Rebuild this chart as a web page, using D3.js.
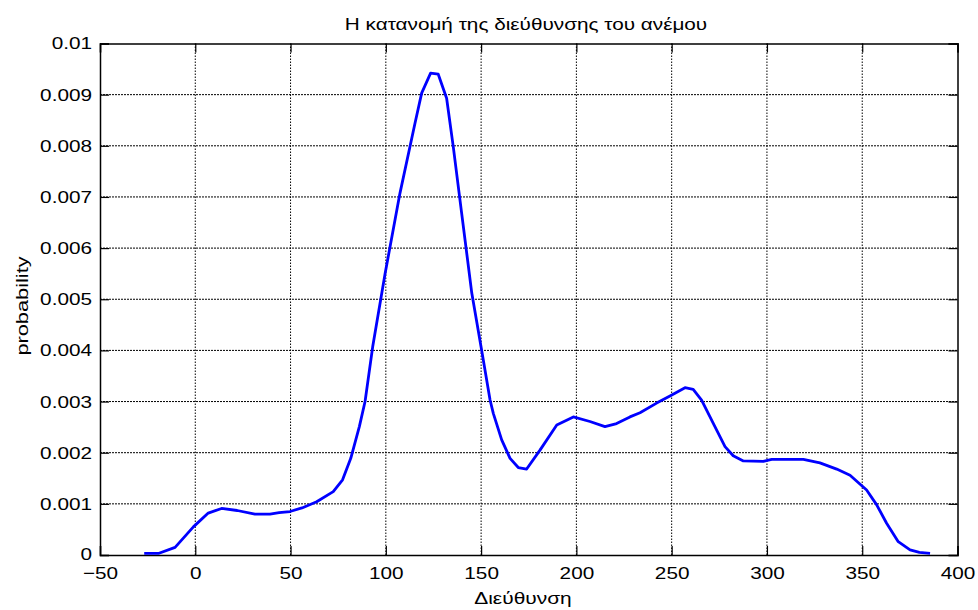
<!DOCTYPE html>
<html>
<head>
<meta charset="utf-8">
<script src="https://cdn.jsdelivr.net/npm/d3@7"></script>
<style>
    body { margin: 0; background: #fff; }
    text { font-family: "Liberation Sans", Arial, sans-serif; fill: #000; }
</style>
</head>
<body>
<div class="chart"></div>
<script>

const direction = [
    -26.8, -19.4, -10.6, -1.0, 6.8, 13.8, 22, 31.3, 39.2, 44, 49.7, 56, 63.7, 72.4,
    77.3, 81.6, 86.1, 89.1, 93.1, 99.6, 107.4, 115.3, 118.8, 123.5, 127.5, 131.9,
    135.4, 139.8, 145.1, 150.3, 154.7, 156.4, 160.8, 165.2, 169.5, 173.9, 180.9,
    189.7, 198.4, 207.1, 215, 221.1, 228.1, 233.4, 242.1, 249.1, 257, 261.3, 265.7,
    271.9, 278, 282.3, 287.6, 298.1, 302.5, 319.1, 327.8, 336.6, 343.6, 352.3,
    357.6, 362.8, 368.9, 375.1, 380, 385.6
];

const probability = [
    0.00003, 0.00003, 0.00015, 0.00055, 0.00082, 0.00091, 0.00087, 0.0008, 0.0008,
    0.00083, 0.00085, 0.00092, 0.00104, 0.00124, 0.00147, 0.00189, 0.00251, 0.003,
    0.00407, 0.0055, 0.00707, 0.00844, 0.00903, 0.00942, 0.0094, 0.00893, 0.00798,
    0.00668, 0.00512, 0.0040, 0.00303, 0.00277, 0.00225, 0.00189, 0.00171, 0.00168,
    0.00205, 0.00254, 0.0027, 0.00261, 0.00251, 0.00257, 0.0027, 0.00278, 0.00297,
    0.00311, 0.00327, 0.00324, 0.00303, 0.00257, 0.00212, 0.00194, 0.00184, 0.00183,
    0.00187, 0.00187, 0.0018, 0.00168, 0.00156, 0.00127, 0.00098, 0.00062, 0.00026,
    0.0001, 0.00005, 0.00003
];

const xTicks = [-50, 0, 50, 100, 150, 200, 250, 300, 350, 400];
const yTicks = [0, 0.001, 0.002, 0.003, 0.004, 0.005, 0.006, 0.007, 0.008, 0.009, 0.01];

const titleText = "Η κατανομή της διεύθυνσης του ανέμου";
const xLabelText = "Διεύθυνση";
const yLabelText = "probability";

// the reference glyphs are wider than Liberation Sans, so stretch them a bit
function stretch(selection, factor){
    selection.each(function(){
        const len = this.getComputedTextLength();
        d3.select(this)
            .attr("textLength", len * factor)
            .attr("lengthAdjust", "spacingAndGlyphs");
    });
}

function drawChart(){

    const margin = {top: 43.5, right: 20.5, bottom: 55, left: 100};
    const totalWidth = 978, totalHeight = 610;
    const width = totalWidth - margin.left - margin.right;
    const height = totalHeight - margin.top - margin.bottom;

    const svg = d3.select(".chart")
        .append("svg")
        .attr("width", totalWidth)
        .attr("height", totalHeight);

    const g = svg.append("g")
        .attr("transform", `translate(${margin.left},${margin.top})`);

    const x = d3.scaleLinear().domain([-50, 400]).range([0, width]);
    const y = d3.scaleLinear().domain([0, 0.01]).range([height, 0]);

    // dotted grid
    g.append("g")
        .selectAll("line")
        .data(xTicks.slice(1, -1))
        .enter()
        .append("line")
        .attr("x1", d => x(d)).attr("x2", d => x(d))
        .attr("y1", 0).attr("y2", height)
        .attr("stroke", "#000")
        .attr("stroke-dasharray", "1.5,1.5");

    g.append("g")
        .selectAll("line")
        .data(yTicks.slice(1, -1))
        .enter()
        .append("line")
        .attr("x1", 0).attr("x2", width)
        .attr("y1", d => y(d)).attr("y2", d => y(d))
        .attr("stroke", "#000")
        .attr("stroke-dasharray", "2,1");

    const tickLen = 9;

    g.append("g")
        .attr("transform", `translate(0,${height})`)
        .call(d3.axisBottom(x).tickValues(xTicks).tickSize(-tickLen).tickPadding(12).tickFormat(d3.format("d")));
    g.append("g")
        .call(d3.axisTop(x).tickValues(xTicks).tickSize(-tickLen).tickFormat(""));
    const leftAxis = g.append("g")
        .call(d3.axisLeft(y).tickValues(yTicks).tickSize(-tickLen).tickPadding(8).tickFormat(d => d === 0 ? "0" : String(+d.toFixed(3))));
    g.append("g")
        .attr("transform", `translate(${width},0)`)
        .call(d3.axisRight(y).tickValues(yTicks).tickSize(-tickLen).tickFormat(""));

    // keep the zero label clear of the -50 label below it
    leftAxis.selectAll(".tick text")
        .filter(d => d === 0)
        .attr("dy", "0.25em");

    g.selectAll(".domain")
        .attr("stroke", "#000")
        .attr("stroke-width", 1.5);

    g.selectAll(".tick line")
        .attr("stroke", "#000")
        .attr("stroke-width", 1.2);

    g.selectAll(".tick text")
        .style("font-family", "'Liberation Sans', Arial, sans-serif")
        .style("font-size", "17px")
        .attr("fill", "#000")
        .call(stretch, 1.22);

    const line = d3.line()
        .x((d, i) => x(direction[i]))
        .y(d => y(d));

    g.append("path")
        .datum(probability)
        .attr("fill", "none")
        .attr("stroke", "#0000ff")
        .attr("stroke-width", 2.8)
        .attr("stroke-linejoin", "round")
        .attr("d", line);

    svg.append("text")
        .attr("x", 526)
        .attr("y", 30)
        .attr("text-anchor", "middle")
        .style("font-size", "17px")
        .text(titleText)
        .call(stretch, 1.22);

    svg.append("text")
        .attr("x", 523)
        .attr("y", 604)
        .attr("text-anchor", "middle")
        .style("font-size", "17px")
        .text(xLabelText)
        .call(stretch, 1.23);

    svg.append("text")
        .attr("transform", `translate(28,306) rotate(-90)`)
        .attr("text-anchor", "middle")
        .style("font-size", "17px")
        .text(yLabelText)
        .call(stretch, 1.28);
}

drawChart();
</script>
</body>
</html>
